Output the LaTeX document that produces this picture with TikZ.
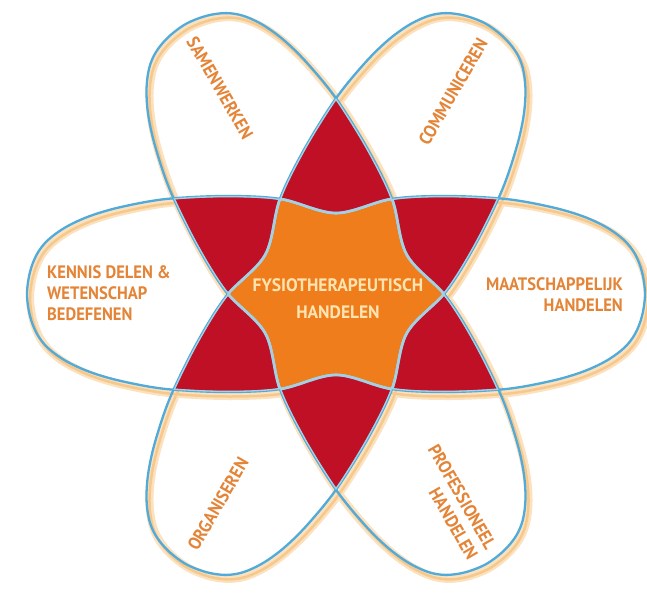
\documentclass[tikz,border=0pt]{standalone}
\usepackage{fontspec}
\setmainfont{PT Sans}
\newfontfamily\labfont[FakeStretch=0.92]{PT Sans}
\newfontfamily\ctrfont[FakeStretch=0.97]{PT Sans}
\definecolor{ringblue}{RGB}{80,170,218}
\definecolor{lightring}{RGB}{165,208,228}
\definecolor{peach}{RGB}{246,200,140}
\definecolor{peachsoft}{RGB}{251,225,190}
\definecolor{starred}{RGB}{192,16,38}
\definecolor{starorange}{RGB}{240,125,28}
\definecolor{txtorange}{RGB}{228,132,55}
\definecolor{txtcream}{RGB}{255,228,178}
\newcommand\petal[2][]{\path[#1,rotate=#2] plot[smooth cycle,tension=0.55] coordinates {(309,0) (306,22) (299,40) (288,54) (270,67) (246,78) (215,87) (170,95) (110,98) (55,95) (0,81) (-55,95) (-110,98) (-170,95) (-215,87) (-246,78) (-270,67) (-288,54) (-299,40) (-306,22) (-309,0) (-306,-22) (-299,-40) (-288,-54) (-270,-67) (-246,-78) (-215,-87) (-170,-95) (-110,-98) (-55,-95) (0,-81) (55,-95) (110,-98) (170,-95) (215,-87) (246,-78) (270,-67) (288,-54) (299,-40) (306,-22)};}
\tikzset{
  lbl/.style={text=txtorange, font=\labfont\bfseries\fontsize{18}{21}\selectfont, inner sep=0pt},
  ctr/.style={text=txtcream, font=\ctrfont\bfseries\fontsize{18}{27}\selectfont, inner sep=0pt},
  shadowA/.style={draw=peachsoft, line width=8, shift={(3,-4)}},
  shadowB/.style={draw=peach, line width=2.5, shift={(3,-4.5)}},
  outline/.style={draw=ringblue, line width=2.3},
  inline/.style={draw=lightring, line width=2.6}
}
\begin{document}
\begin{tikzpicture}[x=1pt,y=1pt]
\useasboundingbox (-336,-301) rectangle (311,294);
\fill[white] (-336,-301) rectangle (311,294);
% shadows
\foreach \a in {0,61,-61}{\petal[shadowA]{\a}}
\foreach \a in {0,61,-61}{\petal[shadowB]{\a}}
% red pairwise overlaps
\begin{scope}\petal[clip]{0}\petal[fill=starred]{61}\petal[fill=starred]{-61}\end{scope}
\begin{scope}\petal[clip]{61}\petal[fill=starred]{-61}\end{scope}
% orange triple overlap
\begin{scope}\petal[clip]{0}\petal[clip]{61}\petal[fill=starorange]{-61}\end{scope}
% outlines
\foreach \a in {0,61,-61}{\petal[outline]{\a}}
\begin{scope}\petal[clip]{0}\petal[clip]{61}\foreach \a in {0,61,-61}{\petal[inline]{\a}}\end{scope}
\begin{scope}\petal[clip]{0}\petal[clip]{-61}\foreach \a in {0,61,-61}{\petal[inline]{\a}}\end{scope}
\begin{scope}\petal[clip]{61}\petal[clip]{-61}\foreach \a in {0,61,-61}{\petal[inline]{\a}}\end{scope}
% labels
\node[ctr, align=center] (fysio) at (2,-5) {FYSIOTHERAPEUTISCH\\HANDELEN};
\node[lbl, anchor=west, align=left] (kennis) at (-289,1) {KENNIS DELEN \&\\WETENSCHAP\\BEDEFENEN};
\node[lbl, anchor=east, align=right] (maat) at (287,-1) {MAATSCHAPPELIJK\\HANDELEN};
\node[lbl, rotate=-60] (samen) at (-116,206) {SAMENWERKEN};
\node[lbl, rotate=60] (comm) at (117,202) {COMMUNICEREN};
\node[lbl, rotate=60] (org) at (-118,-210) {ORGANISEREN};
\node[lbl, rotate=-60, align=right] (prof) at (117,-208) {PROFESSIONEEL\\HANDELEN};
\end{tikzpicture}
\end{document}
